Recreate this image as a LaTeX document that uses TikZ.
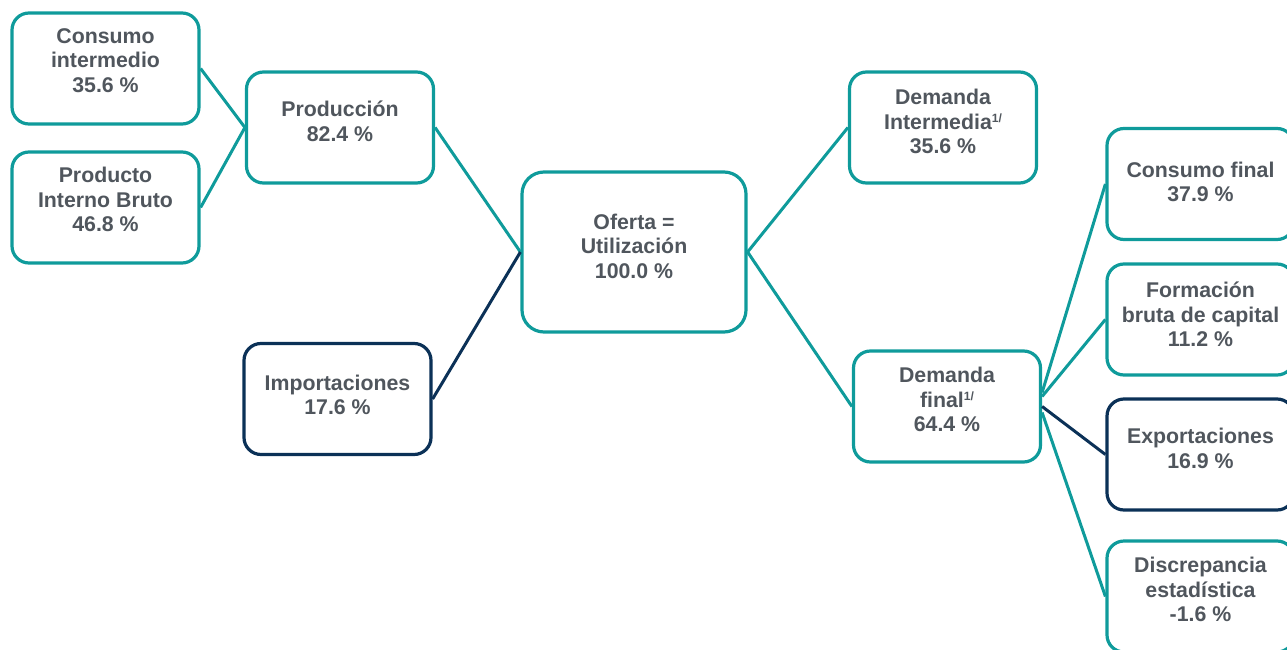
\documentclass[tikz,border=0pt]{standalone}
\usepackage{fontspec}
\setmainfont{Liberation Sans}
\definecolor{teal}{HTML}{0F9B9B}
\definecolor{navy}{HTML}{0B3157}
\definecolor{txtgray}{HTML}{50565D}
\newcommand{\supo}{\raisebox{7pt}{\fontsize{12}{12}\selectfont 1/}}
\begin{document}
\begin{tikzpicture}[x=1pt, y=-1pt,
  box/.style={draw=teal, fill=white, line width=3.2pt, rounded corners=17pt, minimum width=187pt, minimum height=111pt},
  boxnavy/.style={box, draw=navy},
  txt/.style={text=txtgray, align=center, font=\bfseries\fontsize{21.3}{24.5}\selectfont},
  link/.style={teal, line width=3pt},
  linknavy/.style={navy, line width=3pt}]
  \useasboundingbox (0,0) rectangle (1287,650);

  % Boxes
  \node[box] (cons) at (105.5,68.5) {};
  \node[box] (pib) at (105.5,207.5) {};
  \node[box] (prod) at (340,127.5) {};
  \node[boxnavy] (imp) at (337.5,399) {};
  \node[box, minimum width=224pt, minimum height=160pt, rounded corners=22pt] (ofe) at (634,252) {};
  \node[box] (dint) at (943,127.5) {};
  \node[box] (dfin) at (947,406.5) {};
  \node[box] (cfin) at (1200.5,184) {};
  \node[box] (fbk) at (1200.5,319.5) {};
  \node[boxnavy] (exp) at (1200.5,454.5) {};
  \node[box] (disc) at (1200.5,596.5) {};

  % Texts
  \node[txt] (tcons) at ([yshift=8pt]cons.center) {Consumo\\intermedio\\35.6 \%};
  \node[txt] (tpib) at ([yshift=8pt]pib.center) {Producto\\Interno Bruto\\46.8 \%};
  \node[txt] (tprod) at ([yshift=6pt]prod.center) {Producción\\82.4 \%};
  \node[txt] (timp) at ([yshift=4pt]imp.center) {Importaciones\\17.6 \%};
  \node[txt] (tofe) at ([yshift=6pt]ofe.center) {Oferta =\\Utilización\\100.0 \%};
  \node[txt] (tdint) at ([yshift=6pt]dint.center) {Demanda\\Intermedia\supo\\35.6 \%};
  \node[txt] (tdfin) at ([yshift=7pt]dfin.center) {Demanda\\final\supo\\64.4 \%};
  \node[txt] (tcfin) at ([yshift=2pt]cfin.center) {Consumo final\\37.9 \%};
  \node[txt] (tfbk) at ([yshift=5pt]fbk.center) {Formación\\bruta de capital\\11.2 \%};
  \node[txt] (texp) at ([yshift=6pt]exp.center) {Exportaciones\\16.9 \%};
  \node[txt] (tdisc) at ([yshift=7pt]disc.center) {Discrepancia\\estadística\\-1.6 \%};

  % Links
  \draw[link] (cons.east) -- (prod.west);
  \draw[link] (pib.east) -- (prod.west);
  \draw[link] (prod.east) -- (ofe.west);
  \draw[linknavy] (imp.east) -- (ofe.west);
  \draw[link] (ofe.east) -- (dint.west);
  \draw[link] (ofe.east) -- (dfin.west);
  \draw[link] ([yshift=14pt]dfin.east) -- (cfin.west);
  \draw[link] ([yshift=10pt]dfin.east) -- (fbk.west);
  \draw[linknavy] (dfin.east) -- (exp.west);
  \draw[link] ([yshift=-6pt]dfin.east) -- (disc.west);
\end{tikzpicture}
\end{document}
